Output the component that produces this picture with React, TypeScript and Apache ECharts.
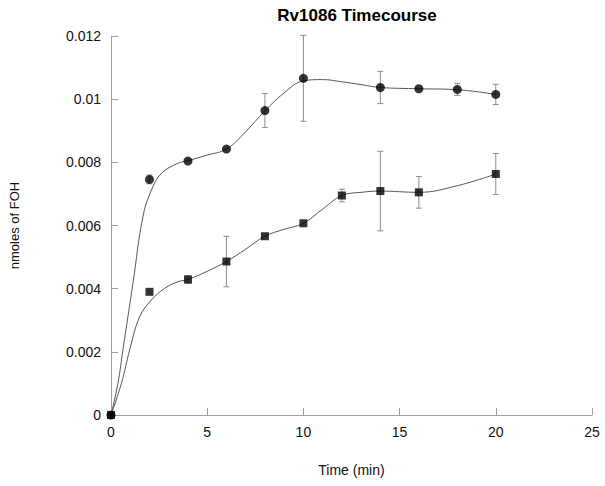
import React, { useEffect, useRef } from "react";
import * as echarts from "echarts";

// Measured points (circles)
const timeCircle = [0, 2, 4, 6, 8, 10, 14, 16, 18, 20];
const fohCircle = [0, 0.00746, 0.00804, 0.00842, 0.00964, 0.01066, 0.01037, 0.01033, 0.01031, 0.01015];
const errCircle = [0, 0.00014, 0.00004, 0.00003, 0.00054, 0.00136, 0.00051, 0.00004, 0.00019, 0.00032];

// Measured points (squares)
const timeSquare = [0, 2, 4, 6, 8, 10, 12, 14, 16, 20];
const fohSquare = [0, 0.0039, 0.00429, 0.00486, 0.00566, 0.00607, 0.00695, 0.00709, 0.00705, 0.00763];
const errSquare = [0, 0.00003, 0.00012, 0.0008, 0.00003, 0.00003, 0.0002, 0.00126, 0.0005, 0.00065];

// Fitted curves
const fitTimeCircle = [0, 0.36, 0.62, 1.14, 1.66, 2.1, 2.62, 3.48, 4, 5, 6, 7, 8, 9, 10, 11, 12, 13, 14, 16, 18, 20];
const fitCircle = [0, 0.001, 0.00206, 0.00417, 0.00628, 0.00712, 0.00765, 0.00797, 0.00805, 0.00823, 0.00842, 0.00897, 0.00963, 0.0102, 0.01058, 0.01062, 0.01055, 0.01046, 0.01037, 0.01033, 0.0103, 0.01015];
const fitTimeSquare = [0, 0.54, 0.97, 1.49, 2.1, 2.79, 3.48, 4, 5, 6, 7, 8, 9, 10, 11, 12, 13, 14, 16, 18, 20];
const fitSquare = [0, 0.001, 0.00206, 0.00311, 0.00364, 0.00401, 0.00422, 0.00429, 0.00455, 0.00486, 0.00525, 0.00566, 0.00588, 0.00607, 0.00652, 0.00695, 0.00705, 0.00709, 0.00705, 0.00726, 0.00763];

const xTicks = { min: 0, max: 25, interval: 5 };
const yTicks = { min: 0, max: 0.012, interval: 0.002 };

const FONT = "'Liberation Sans', Arial, sans-serif";

function zip(xs: number[], ys: number[]) {
  return xs.map((x, i) => [x, ys[i]]);
}
function errData(xs: number[], ys: number[], es: number[]) {
  return xs
    .map((x, i) => [x, ys[i] - es[i], ys[i] + es[i]])
    .filter((_, i) => es[i] >= 0.0001);
}

export default function App() {
  const ref = useRef<HTMLDivElement>(null);
  useEffect(() => {
    if (!ref.current) return;
    const chart = echarts.init(ref.current, undefined, { renderer: "svg" });
    const errRender = (params: any, api: any) => {
      const x = api.value(0);
      const lo = api.value(1);
      const hi = api.value(2);
      const top = api.coord([x, hi]);
      const bot = api.coord([x, lo]);
      const w = 3;
      const st = { stroke: "#8c8c8c", lineWidth: 1 };
      return {
        type: "group",
        children: [
          { type: "line", shape: { x1: top[0], y1: top[1], x2: bot[0], y2: bot[1] }, style: st },
          { type: "line", shape: { x1: top[0] - w, y1: top[1], x2: top[0] + w, y2: top[1] }, style: st },
          { type: "line", shape: { x1: bot[0] - w, y1: bot[1], x2: bot[0] + w, y2: bot[1] }, style: st },
        ],
      };
    };
    const axisCommon = {
      axisLine: { show: true, lineStyle: { color: "#a0a0a0", width: 1 } },
      axisTick: { show: true, inside: true, length: 7, lineStyle: { color: "#a0a0a0" } },
      splitLine: { show: false },
      axisLabel: { color: "#111", fontSize: 14, fontFamily: FONT, margin: 10 },
      nameTextStyle: { color: "#111", fontSize: 13, fontFamily: FONT },
    };
    chart.setOption({
      animation: false,
      backgroundColor: "#ffffff",
      title: {
        text: "Rv1086 Timecourse",
        left: 352,
        top: 2,
        textAlign: "center",
        textStyle: { fontSize: 17, fontWeight: "bold", color: "#000", fontFamily: FONT },
      },
      grid: { left: 111, right: 13, top: 36, bottom: 71, containLabel: false },
      xAxis: {
        type: "value",
        ...xTicks,
        ...axisCommon,
        name: "Time (min)",
        nameLocation: "middle",
        nameGap: 48,
        nameTextStyle: { color: "#111", fontSize: 14, fontFamily: FONT },
      },
      yAxis: {
        type: "value",
        ...yTicks,
        ...axisCommon,
        axisLabel: {
          ...axisCommon.axisLabel,
          formatter: (v: number) => String(+v.toFixed(3)),
        },
        name: "nmoles of FOH",
        nameLocation: "middle",
        nameGap: 90,
      },
      series: [
        {
          type: "line",
          data: zip(fitTimeCircle, fitCircle),
          smooth: 0.4,
          showSymbol: false,
          lineStyle: { color: "#555", width: 1 },
          z: 1,
        },
        {
          type: "line",
          data: zip(fitTimeSquare, fitSquare),
          smooth: 0.4,
          showSymbol: false,
          lineStyle: { color: "#555", width: 1 },
          z: 1,
        },
        {
          type: "custom",
          renderItem: errRender,
          data: errData(timeCircle, fohCircle, errCircle),
          encode: { x: 0, y: [1, 2] },
          z: 2,
        },
        {
          type: "custom",
          renderItem: errRender,
          data: errData(timeSquare, fohSquare, errSquare),
          encode: { x: 0, y: [1, 2] },
          z: 2,
        },
        {
          type: "scatter",
          data: zip(timeCircle, fohCircle),
          symbol: "circle",
          symbolSize: 9,
          itemStyle: { color: "#000" },
          z: 3,
        },
        {
          type: "scatter",
          data: zip(timeSquare, fohSquare),
          symbol: "rect",
          symbolSize: 8,
          itemStyle: { color: "#000" },
          z: 4,
        },
      ],
    });
    return () => chart.dispose();
  }, []);
  return <div ref={ref} style={{ width: 605, height: 486, position: "absolute", left: 0, top: 0 }} />;
}
